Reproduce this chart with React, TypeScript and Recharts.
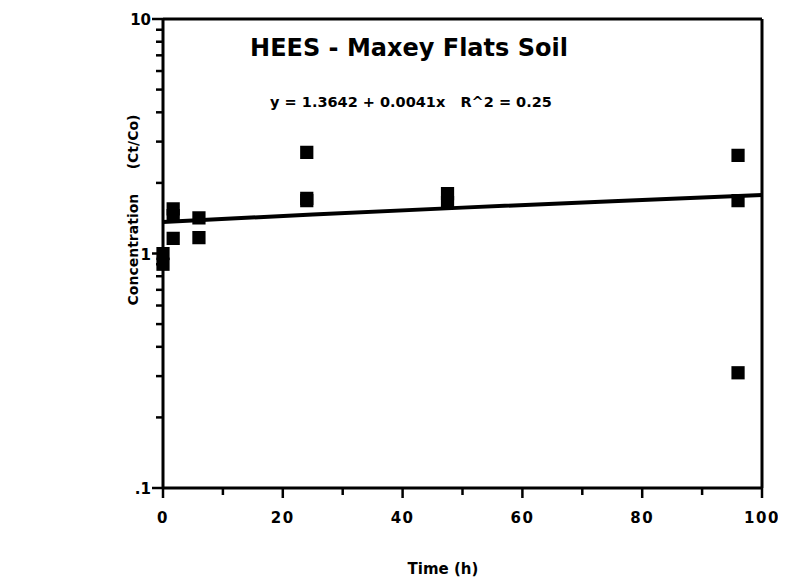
import { ComposedChart, Scatter, Line, XAxis, YAxis, ZAxis } from 'recharts'

// measured points (time h, Ct/Co)
const timeH = [0, 0, 1.7, 1.7, 1.7, 6, 6, 24, 24, 24, 47.5, 47.5, 96, 96, 96]
const conc = [1.0, 0.9, 1.55, 1.45, 1.16, 1.42, 1.17, 2.7, 1.72, 1.68, 1.8, 1.65, 2.62, 1.68, 0.31]

// fitted line y = 1.3642 + 0.0041x
const fitX = [0, 25, 50, 75, 100]
const fitY = [1.364, 1.467, 1.569, 1.672, 1.774]

const xMajor = [0, 20, 40, 60, 80, 100]
const xMinor = [10, 30, 50, 70, 90]
const yMajor = [0.1, 1, 10]
const yMinor = [0.2, 0.3, 0.4, 0.5, 0.6, 0.7, 0.8, 0.9, 2, 3, 4, 5, 6, 7, 8, 9]

const points = timeH.map((x, i) => ({ x, y: conc[i] }))
const fit = fitX.map((x, i) => ({ x, y: fitY[i] }))
const xTicks = [...xMajor, ...xMinor].sort((a, b) => a - b)
const yTicks = [...yMajor, ...yMinor].sort((a, b) => a - b)

const font = '"DejaVu Sans", "Liberation Sans", sans-serif'
const fmtY = (v: number) => (v === 0.1 ? '.1' : String(v))

// tick mark + label drawn together
const XTick = (props: any) => {
  const { x, y, payload } = props
  const major = xMajor.includes(payload.value)
  return (
    <g>
      <line x1={x} x2={x} y1={y} y2={y + (major ? 10 : 7)} stroke="#000" strokeWidth={2.5} />
      {major && (
        <text x={x} y={y + 35} textAnchor="middle" fontFamily={font} fontWeight={700}
          fontSize={15} letterSpacing={1.5} fill="#000">{payload.value}</text>
      )}
    </g>
  )
}

const YTick = (props: any) => {
  const { x, y, payload } = props
  const major = yMajor.includes(payload.value)
  return (
    <g>
      <line x1={x} x2={x - (major ? 11 : 7)} y1={y} y2={y} stroke="#000" strokeWidth={2.5} />
      {major && (
        <text x={x - 12} y={y + 6} textAnchor="end" fontFamily={font} fontWeight={700}
          fontSize={15} fill="#000">{fmtY(payload.value)}</text>
      )}
    </g>
  )
}

export default function App() {
  return (
    <div style={{ position: 'relative', width: 778, height: 570, background: '#fff' }}>
      <ComposedChart width={778} height={570} margin={{ top: 10, right: 23, bottom: 40, left: 95 }}>
        <XAxis type="number" dataKey="x" domain={[0, 100]} ticks={xTicks} interval={0} height={50}
          tickSize={0} tickMargin={0} tickLine={false} tick={<XTick />}
          stroke="#000" strokeWidth={3} />
        <XAxis xAxisId="top" orientation="top" type="number" dataKey="x" domain={[0, 100]}
          height={1} tick={false} tickLine={false} stroke="#000" strokeWidth={3} />
        <YAxis scale="log" type="number" domain={[0.1, 10]} ticks={yTicks} interval={0}
          allowDataOverflow width={60} tickSize={0} tickMargin={0} tickLine={false} tick={<YTick />}
          stroke="#000" strokeWidth={3} />
        <YAxis yAxisId="right" orientation="right" scale="log" type="number" domain={[0.1, 10]}
          allowDataOverflow width={1} tick={false} tickLine={false}
          stroke="#000" strokeWidth={3} />
        <ZAxis range={[175, 175]} />
        <Line data={fit} dataKey="y" type="monotone" stroke="#000" strokeWidth={4}
          dot={false} isAnimationActive={false} />
        <Scatter data={points} dataKey="y" shape="square" fill="#000"
          isAnimationActive={false} />
      </ComposedChart>
      <div style={{ position: 'absolute', left: 0, top: 26, width: 802, textAlign: 'center',
        fontFamily: font, fontWeight: 700, fontSize: 24, lineHeight: '28px', color: '#000' }}>
        HEES - Maxey Flats Soil
      </div>
      <div style={{ position: 'absolute', left: 0, top: 85, width: 806, textAlign: 'center',
        fontFamily: font, fontWeight: 700, fontSize: 14.5, lineHeight: '18px', color: '#000', whiteSpace: 'pre' }}>
        {'y = 1.3642 + 0.0041x   R^2 = 0.25'}
      </div>
      <div style={{ position: 'absolute', left: 125 - 150, top: 202 - 10, width: 300, textAlign: 'center',
        transform: 'rotate(-90deg)', fontFamily: font, fontWeight: 700, fontSize: 14, color: '#000',
        whiteSpace: 'pre', lineHeight: '20px' }}>
        {'Concentration     (Ct/Co)'}
      </div>
      <div style={{ position: 'absolute', left: 0, top: 551, width: 870, textAlign: 'center',
        fontFamily: font, fontWeight: 700, fontSize: 15, lineHeight: '20px', color: '#000' }}>
        Time (h)
      </div>
    </div>
  )
}
